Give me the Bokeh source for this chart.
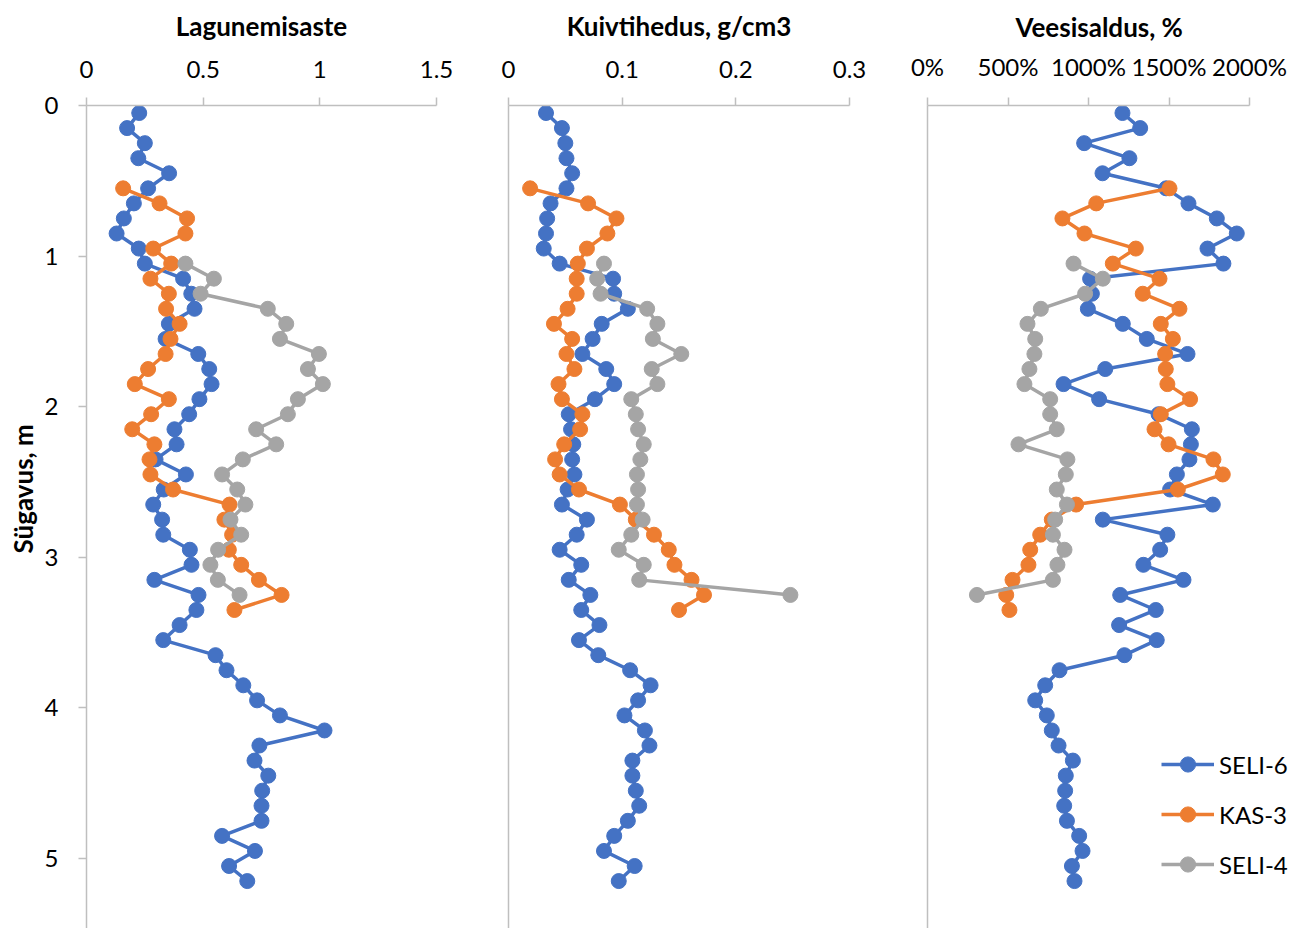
from bokeh.plotting import figure
from bokeh.layouts import row
from bokeh.models import (Range1d, FixedTicker, PrintfTickFormatter, NumeralTickFormatter,
                          Legend, LegendItem, Title)
from bokeh.embed import file_html
from bokeh.resources import INLINE

# ---------------- data ----------------
seli6_depth = [0.05, 0.15, 0.25, 0.35, 0.45, 0.55, 0.65, 0.75, 0.85, 0.95,
               1.05, 1.15, 1.25, 1.35, 1.45, 1.55, 1.65, 1.75, 1.85, 1.95,
               2.05, 2.15, 2.25, 2.35, 2.45, 2.55, 2.65, 2.75, 2.85, 2.95,
               3.05, 3.15, 3.25, 3.35, 3.45, 3.55, 3.65, 3.75, 3.85, 3.95,
               4.05, 4.15, 4.25, 4.35, 4.45, 4.55, 4.65, 4.75, 4.85, 4.95,
               5.05, 5.15]
seli6_lag = [0.226, 0.174, 0.25, 0.222, 0.354, 0.264, 0.203, 0.16, 0.129, 0.224,
             0.25, 0.414, 0.449, 0.463, 0.353, 0.339, 0.479, 0.526, 0.536, 0.484,
             0.44, 0.377, 0.386, 0.296, 0.426, 0.331, 0.286, 0.324, 0.329, 0.443,
             0.45, 0.291, 0.48, 0.471, 0.399, 0.329, 0.553, 0.6, 0.672, 0.731,
             0.829, 1.02, 0.741, 0.72, 0.779, 0.753, 0.75, 0.75, 0.581, 0.722,
             0.611, 0.689]
seli6_dens = [0.033, 0.047, 0.05, 0.051, 0.056, 0.051, 0.037, 0.034, 0.033, 0.031,
              0.045, 0.092, 0.093, 0.105, 0.082, 0.074, 0.065, 0.086, 0.093, 0.076,
              0.053, 0.055, 0.057, 0.056, 0.058, 0.052, 0.047, 0.069, 0.06, 0.045,
              0.064, 0.053, 0.072, 0.064, 0.08, 0.062, 0.079, 0.107, 0.125, 0.114,
              0.102, 0.12, 0.124, 0.109, 0.109, 0.112, 0.115, 0.105, 0.093, 0.084,
              0.111, 0.097]
seli6_water = [1211, 1321, 973, 1254, 1087, 1482, 1621, 1797, 1921, 1739,
               1838, 1010, 1021, 996, 1213, 1362, 1615, 1104, 845, 1066,
               1435, 1642, 1636, 1627, 1549, 1507, 1772, 1089, 1490, 1445,
               1341, 1590, 1197, 1418, 1190, 1424, 1223, 820, 731, 669,
               741, 772, 814, 903, 859, 855, 849, 866, 942, 963,
               897, 913]

kas3_depth = [0.55, 0.65, 0.75, 0.85, 0.95, 1.05, 1.15, 1.25, 1.35, 1.45,
              1.55, 1.65, 1.75, 1.85, 1.95, 2.05, 2.15, 2.25, 2.35, 2.45,
              2.55, 2.65, 2.75, 2.85, 2.95, 3.05, 3.15, 3.25, 3.35]
kas3_lag = [0.157, 0.313, 0.431, 0.424, 0.286, 0.363, 0.274, 0.353, 0.341, 0.399,
            0.36, 0.339, 0.264, 0.207, 0.353, 0.277, 0.196, 0.291, 0.27, 0.274,
            0.371, 0.613, 0.591, 0.624, 0.61, 0.663, 0.739, 0.836, 0.634]
kas3_dens = [0.019, 0.07, 0.095, 0.087, 0.069, 0.061, 0.06, 0.06, 0.052, 0.04,
             0.056, 0.051, 0.058, 0.044, 0.047, 0.065, 0.063, 0.049, 0.041, 0.045,
             0.062, 0.098, 0.112, 0.128, 0.141, 0.146, 0.161, 0.172, 0.15]
kas3_water = [1503, 1048, 838, 975, 1294, 1151, 1441, 1337, 1565, 1449,
              1524, 1476, 1480, 1490, 1631, 1449, 1410, 1497, 1776, 1834,
              1555, 923, 772, 700, 638, 627, 528, 489, 509]

seli4_depth = [1.05, 1.15, 1.25, 1.35, 1.45, 1.55, 1.65, 1.75, 1.85, 1.95,
               2.05, 2.15, 2.25, 2.35, 2.45, 2.55, 2.65, 2.75, 2.85, 2.95,
               3.05, 3.15, 3.25]
seli4_lag = [0.424, 0.546, 0.489, 0.777, 0.856, 0.829, 0.996, 0.949, 1.013, 0.906,
             0.863, 0.727, 0.813, 0.67, 0.581, 0.646, 0.681, 0.617, 0.663, 0.564,
             0.531, 0.563, 0.656]
seli4_dens = [0.084, 0.078, 0.081, 0.122, 0.131, 0.127, 0.152, 0.126, 0.131, 0.108,
              0.112, 0.114, 0.119, 0.116, 0.113, 0.114, 0.113, 0.118, 0.108, 0.097,
              0.119, 0.115, 0.248]
seli4_water = [907, 1089, 979, 704, 621, 669, 664, 633, 602, 762,
               762, 803, 565, 869, 859, 803, 866, 793, 779, 851,
               807, 779, 307]

series_names = ["SELI-6", "KAS-3", "SELI-4"]
panel_titles = ["Lagunemisaste", "Kuivtihedus, g/cm3", "Veesisaldus, %"]
y_title = "Sügavus, m"
lag_ticks = [0, 0.5, 1, 1.5]
dens_ticks = [0, 0.1, 0.2, 0.3]
water_ticks = [0, 500, 1000, 1500, 2000]
depth_ticks = [0, 1, 2, 3, 4, 5]

# ---------------- style ----------------
FONT = "Lato"
COLORS = ["#4472C4", "#ED7D31", "#A5A5A5"]
AXIS_COLOR = "#BFBFBF"
FRAME_H = 823
TOP = 105

y_range = Range1d(5.465, 0)


def style_axis(ax):
    ax.axis_line_color = AXIS_COLOR
    ax.axis_line_width = 1.5
    ax.major_tick_line_color = AXIS_COLOR
    ax.major_tick_line_width = 1.5
    ax.minor_tick_line_color = None
    ax.major_tick_in = 0
    ax.major_tick_out = 8
    ax.major_label_text_font = FONT
    ax.major_label_text_font_size = "24px"
    ax.major_label_text_color = "black"
    ax.axis_label_text_font = FONT
    ax.axis_label_text_font_style = "bold"
    ax.axis_label_text_font_size = "26px"
    ax.axis_label_text_color = "black"


def make_panel(title, x_start, x_end, ticks, bounds, formatter, fw, left, right, xs,
               title_offset=None, label_standoff=20, first=False):
    p = figure(frame_width=fw, frame_height=FRAME_H,
               x_range=Range1d(x_start, x_end), y_range=y_range,
               x_axis_location="above", output_backend="svg",
               toolbar_location=None,
               min_border_left=left, min_border_right=right,
               min_border_top=TOP, min_border_bottom=0)
    p.outline_line_color = None
    p.grid.visible = False
    p.background_fill_color = "white"
    xa = p.xaxis[0]
    style_axis(xa)
    xa.ticker = FixedTicker(ticks=ticks)
    xa.formatter = formatter
    xa.bounds = bounds
    xa.major_label_standoff = label_standoff
    if title_offset is None:
        # title centred over the whole axis
        xa.axis_label = title
        xa.axis_label_standoff = 16
    else:
        # title placed over the 0..end part of a wider frame
        p.add_layout(Title(text=title, align="left", offset=title_offset,
                           vertical_align="top",
                           text_font=FONT, text_font_size="26px",
                           text_font_style="bold", text_color="black",
                           text_line_height=1.0, standoff=8), "above")
    ya = p.yaxis[0]
    style_axis(ya)
    if first:
        ya.ticker = FixedTicker(ticks=depth_ticks)
        ya.major_label_standoff = 20
        t = Title(text=y_title, align="left", offset=375,
                  text_font=FONT, text_font_size="26px",
                  text_font_style="bold", text_color="black", standoff=5)
        p.add_layout(t, "left")
    else:
        ya.ticker = FixedTicker(ticks=[])
    depths = [seli6_depth, kas3_depth, seli4_depth]
    rends = []
    for xvals, yvals, c in zip(xs, depths, COLORS):
        ln = p.line(xvals, yvals, line_color=c, line_width=3.5)
        sc = p.scatter(xvals, yvals, size=15, marker="circle",
                       fill_color=c, line_color=c)
        rends.append([ln, sc])
    return p, rends


p1, _ = make_panel(panel_titles[0], 0, 1.5, lag_ticks, (0, 1.5),
                   NumeralTickFormatter(format="0.[0]"), 350, 86, 36,
                   [seli6_lag, kas3_lag, seli4_lag], first=True)
p2, _ = make_panel(panel_titles[1], 0, 0.3, dens_ticks, (0, 0.3),
                   NumeralTickFormatter(format="0.[0]"), 341, 36, 38,
                   [seli6_dens, kas3_dens, seli4_dens])
# panel 3 frame runs past the 2000% end so that the legend is not clipped;
# the axis line itself stops at 2000% via bounds, and the title is placed
# over the 0-2000% span
P3_AXIS_W = 322
P3_FRAME_W = 365
p3, r3 = make_panel(panel_titles[2], 0, 2000 * P3_FRAME_W / P3_AXIS_W, water_ticks, (0, 2000),
                    PrintfTickFormatter(format="%d%%"), P3_FRAME_W, 40, 0,
                    [seli6_water, kas3_water, seli4_water], title_offset=88,
                    label_standoff=17)

legend = Legend(items=[LegendItem(label=n, renderers=r) for n, r in zip(series_names, r3)],
                location=(234, 45), glyph_width=53, glyph_height=38,
                label_height=38, spacing=12, padding=0, margin=0,
                border_line_color=None, background_fill_alpha=0,
                label_text_font=FONT, label_text_font_size="24px",
                label_text_color="black", label_standoff=5)
p3.add_layout(legend)

layout = row(p1, p2, p3)
open("out.html", "w").write(file_html(layout, INLINE))
